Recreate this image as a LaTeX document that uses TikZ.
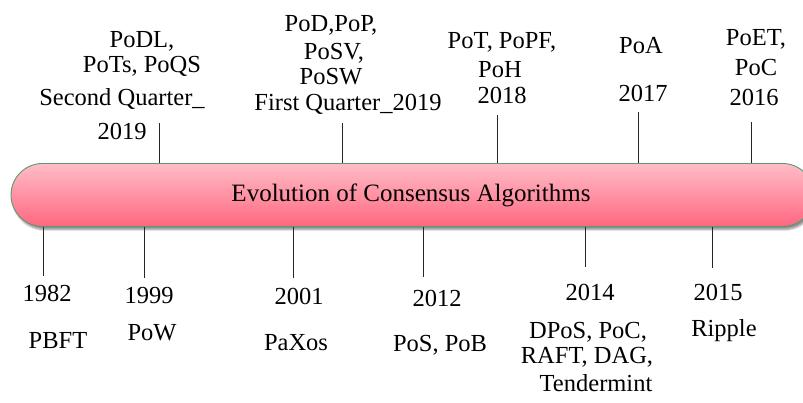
\documentclass[tikz,border=0pt]{standalone}
\usepackage{fontspec}
\setmainfont{Liberation Serif}
\usetikzlibrary{shadows,shadows.blur}
\definecolor{barTop}{HTML}{FFBDC7}
\definecolor{barBot}{HTML}{FF6780}
\definecolor{barEdge}{HTML}{5A9A70}
\begin{document}
\begin{tikzpicture}[x=1pt,y=-1pt,
  lbl/.style={inner sep=0pt,font=\fontsize{24.5}{28}\selectfont,text=black},
  tick/.style={draw=black!85,line width=0.9pt},
  timeline/.style={rounded corners=31.5pt,minimum width=803pt,minimum height=63pt,
    inner sep=0pt,draw=barEdge,line width=0.9pt,top color=barTop,bottom color=barBot,
    blur shadow={shadow xshift=2pt,shadow yshift=-3pt,shadow blur steps=6,shadow opacity=45}}]
\useasboundingbox (0,0) rectangle (803,403);

% the timeline bar
\node[timeline] (bar) at (412.5,195) {};
\node[lbl,font=\fontsize{25}{28}\selectfont] (title) at (411,195) {Evolution of Consensus Algorithms};

% ends of the ticks above the bar
\coordinate (u1) at (159,123);
\coordinate (u2) at (342,123);
\coordinate (u3) at (497,115);
\coordinate (u4) at (638,112);
\coordinate (u5) at (751,122);
% ends of the ticks below the bar
\coordinate (d1) at (43,276);
\coordinate (d2) at (144,278);
\coordinate (d3) at (293,278);
\coordinate (d4) at (423,277);
\coordinate (d5) at (585,267);
\coordinate (d6) at (712,268);

\foreach \c in {u1,u2,u3,u4,u5} \draw[tick] (bar.north -| \c) -- (\c);
\foreach \c in {d1,d2,d3,d4,d5,d6} \draw[tick] (bar.south -| \c) -- (\c);

% labels above
\node[lbl] (a1) at (142,41) {PoDL,};
\node[lbl] (a2) at (142,66) {PoTs, PoQS};
\node[lbl] (a3) at (122,99) {Second Quarter\_};
\node[lbl] (a4) at (122,131) {2019};

\node[lbl] (b1) at (331,25) {PoD,PoP,};
\node[lbl] (b2) at (334,53) {PoSV,};
\node[lbl] (b3) at (331,77) {PoSW};
\node[lbl] (b4) at (348,104) {First Quarter\_2019};

\node[lbl] (c1) at (502,42) {PoT, PoPF,};
\node[lbl] (c2) at (500,70) {PoH};
\node[lbl] (c3) at (502,95) {2018};

\node[lbl] (e1) at (641,46) {PoA};
\node[lbl] (e2) at (643,93) {2017};

\node[lbl] (f1) at (756,39) {PoET,};
\node[lbl] (f2) at (756,68) {PoC};
\node[lbl] (f3) at (754,97) {2016};

% labels below
\node[lbl] (g1) at (47,293) {1982};
\node[lbl] (g2) at (58,341) {PBFT};

\node[lbl] (h1) at (149,296) {1999};
\node[lbl] (h2) at (152,333) {PoW};

\node[lbl] (i1) at (299,296) {2001};
\node[lbl] (i2) at (296,343) {PaXos};

\node[lbl] (j1) at (437,298) {2012};
\node[lbl] (j2) at (440,345) {PoS, PoB};

\node[lbl] (k1) at (590,292) {2014};
\node[lbl] (k2) at (588,332) {DPoS, PoC,};
\node[lbl] (k3) at (587,357) {RAFT, DAG,};
\node[lbl] (k4) at (596,383) {Tendermint};

\node[lbl] (l1) at (718,292) {2015};
\node[lbl] (l2) at (724,331) {Ripple};
\end{tikzpicture}
\end{document}
